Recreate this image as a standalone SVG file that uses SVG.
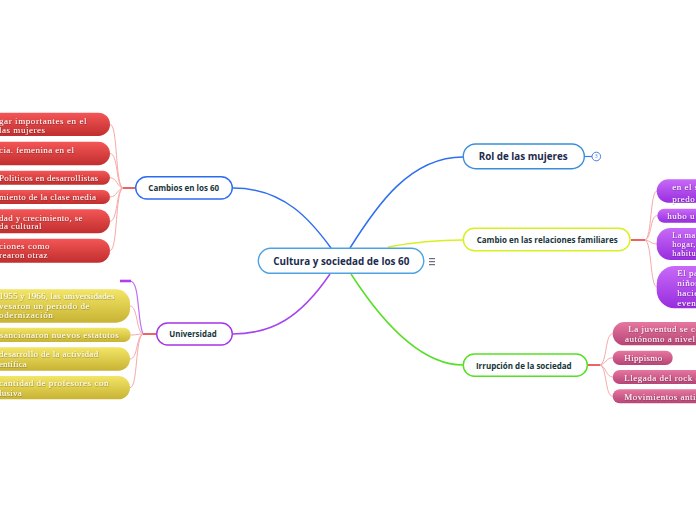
<svg xmlns="http://www.w3.org/2000/svg" width="696" height="520" viewBox="0 0 696 520">
<defs>
<linearGradient id="gRed" x1="0" y1="0" x2="0" y2="1"><stop offset="0" stop-color="#f45656"/><stop offset="1" stop-color="#c12e2e"/></linearGradient>
<linearGradient id="gYel" x1="0" y1="0" x2="0" y2="1"><stop offset="0" stop-color="#f3e567"/><stop offset="1" stop-color="#c8b333"/></linearGradient>
<linearGradient id="gPur" x1="0" y1="0" x2="0" y2="1"><stop offset="0" stop-color="#c86af7"/><stop offset="1" stop-color="#982ddf"/></linearGradient>
<linearGradient id="gPink" x1="0" y1="0" x2="0" y2="1"><stop offset="0" stop-color="#e6779f"/><stop offset="1" stop-color="#b74477"/></linearGradient>
<filter id="ts" x="-10%" y="-30%" width="120%" height="160%"><feDropShadow dx="0.4" dy="0.6" stdDeviation="0.3" flood-color="#000" flood-opacity="0.45"/></filter>
</defs>
<style>
.main{fill:#fff;stroke-width:1.4}
.mt{font-family:"Open Sans","DejaVu Sans",sans-serif;font-weight:700;fill:#17353a;text-anchor:middle}
.ct{fill:#1b2b4c}
.lt{font-family:"Liberation Serif","DejaVu Serif",serif;font-size:9px;fill:#fff;letter-spacing:0.5px;filter:url(#ts)}
.sm{font-size:8.3px}
.lk{fill:none;stroke:#f7a9a9;stroke-width:1}
.stub{fill:none;stroke:#ea3b3b;stroke-width:1.6}
.con{fill:none;stroke-width:1.5}
</style>
<rect width="696" height="520" fill="#fff"/>

<g id="connectors">
  <path class="con" stroke="#2f6ff0" d="M233,188 C285,188 312,222 331,248"/>
  <path class="con" stroke="#2f6ff0" d="M350,248 C377,205 410,157 463,157"/>
  <path class="con" stroke="#d8f020" d="M388,247 C415,242 435,240 463,240"/>
  <path class="con" stroke="#a545f0" d="M330,274 C300,318 272,334 232,334"/>
  <path class="con" stroke="#55e025" d="M351,274 C382,322 420,365 463,365"/>
  <path class="stub" d="M135,188 L123,188"/>
  <path class="lk" d="M123,188 C115,186 118,124 110,124.5"/>
  <path class="lk" d="M123,188 C116,186 118,153 110,153.5"/>
  <path class="lk" d="M123,188 C117,187 117,178 110,177.7"/>
  <path class="lk" d="M123,188 C117,189 117,197 110,197"/>
  <path class="lk" d="M123,188 C116,190 118,221 110,221.3"/>
  <path class="lk" d="M123,188 C115,190 118,250 110,250.7"/>
  <path class="stub" d="M156,334 L143,334"/>
  <path fill="none" stroke="#c070f5" stroke-width="1.2" d="M143,334 C137,320 140,281 130,281"/>
  <path fill="none" stroke="#b040ee" stroke-width="2.6" d="M120,281 L131,281"/>
  <path class="lk" d="M143,334 C136,332 138,306 130,306"/>
  <path class="lk" d="M143,334 C137,334 137,335 131,335"/>
  <path class="lk" d="M143,334 C136,336 138,359 130,359"/>
  <path class="lk" d="M143,334 C135,337 138,387.7 130,387.7"/>
  <path class="stub" d="M631,240 L645,240"/>
  <path class="lk" d="M645,240 C652,238 650,191 657,191"/>
  <path class="lk" d="M645,240 C652,238 650,215.7 657,215.7"/>
  <path class="lk" d="M645,240 C651,241 651,244 657,244"/>
  <path class="lk" d="M645,240 C652,242 650,287 657,287"/>
  <path class="stub" d="M587,365 L600,365"/>
  <path class="lk" d="M600,365 C607,363 605,333.7 612.7,333.7"/>
  <path class="lk" d="M600,365 C606,364 606,357.8 612.7,357.8"/>
  <path class="lk" d="M600,365 C606,366 606,377 612.7,377"/>
  <path class="lk" d="M600,365 C607,367 605,396.3 612.7,396.3"/>
  <path fill="none" stroke="#3a7ee8" stroke-width="1.2" d="M584,156.5 L592,156.5"/>
</g>

<g id="central">
  <rect class="main" x="258.3" y="248.3" width="165.5" height="25" rx="12.5" stroke="#4ea2e2"/>
  <text class="mt ct" x="341.3" y="265" font-size="11" textLength="136" lengthAdjust="spacingAndGlyphs">Cultura y sociedad de los 60</text>
  <g stroke="#4a4f66" stroke-width="1"><path d="M429,258.7h6M429,261.7h6M429,264.7h6"/></g>
</g>

<g id="rol">
  <rect class="main" x="463.3" y="144" width="121" height="24.7" rx="12.3" stroke="#3a8ed8"/>
  <text class="mt ct" x="523.2" y="160.2" font-size="11" textLength="89" lengthAdjust="spacingAndGlyphs">Rol de las mujeres</text>
  <circle cx="596.3" cy="156.5" r="4.3" fill="#fff" stroke="#4a7ee8" stroke-width="1"/>
  <text x="596.3" y="158.3" font-family="Open Sans, sans-serif" font-size="5" fill="#4a7ee8" text-anchor="middle">3</text>
</g>

<g id="cambio-relaciones">
  <rect class="main" x="463.3" y="228.3" width="166.7" height="22.4" rx="11.2" stroke="#d8f020"/>
  <text class="mt" x="547.2" y="243" font-size="9" textLength="141" lengthAdjust="spacingAndGlyphs">Cambio en las relaciones familiares</text>
</g>

<g id="irrupcion">
  <rect class="main" x="463.3" y="354" width="124" height="22.3" rx="11.2" stroke="#55e025"/>
  <text class="mt" x="523.8" y="368.5" font-size="9" textLength="95.7" lengthAdjust="spacingAndGlyphs">Irrupción de la sociedad</text>
</g>

<g id="cambios60">
  <rect class="main" x="135.7" y="176.7" width="96.6" height="22.3" rx="11.2" stroke="#2a6cf0"/>
  <text class="mt" x="183.7" y="191.2" font-size="9" textLength="70.7" lengthAdjust="spacingAndGlyphs">Cambios en los 60</text>
</g>

<g id="universidad">
  <rect class="main" x="156.7" y="323" width="75.6" height="22" rx="11" stroke="#a535e5"/>
  <text class="mt" x="193" y="337.3" font-size="9" textLength="47.4" lengthAdjust="spacingAndGlyphs">Universidad</text>
</g>

<g id="c1"><rect x="-40" y="112.7" width="150" height="23.3" rx="11.6" fill="url(#gRed)"/>
  <text class="lt" x="-1" y="124" textLength="88" lengthAdjust="spacing">gar importantes en el</text>
  <text class="lt" x="-1" y="132.6" textLength="46.5" lengthAdjust="spacing">las mujeres</text></g>
<g id="c2"><rect x="-40" y="141.7" width="150" height="23.6" rx="11.8" fill="url(#gRed)"/>
  <text class="lt" x="-1" y="153" textLength="75.5" lengthAdjust="spacing">cia.  femenina en el</text></g>
<g id="c3"><rect x="-40" y="170.7" width="150" height="14" rx="7" fill="url(#gRed)"/>
  <text class="lt" x="-1" y="181" textLength="99.5" lengthAdjust="spacing">Politicos en desarrollistas</text></g>
<g id="c4"><rect x="-40" y="190" width="150" height="14" rx="7" fill="url(#gRed)"/>
  <text class="lt" x="-1" y="200.2" textLength="97.5" lengthAdjust="spacing">miento de la clase media</text></g>
<g id="c5"><rect x="-40" y="209.3" width="150" height="24" rx="12" fill="url(#gRed)"/>
  <text class="lt" x="-1" y="220.5" textLength="84" lengthAdjust="spacing">dad y crecimiento, se</text>
  <text class="lt" x="-1" y="229.2" textLength="43" lengthAdjust="spacing">da cultural</text></g>
<g id="c6"><rect x="-40" y="238.7" width="150" height="24" rx="12" fill="url(#gRed)"/>
  <text class="lt" x="-1" y="249.2" textLength="51" lengthAdjust="spacing">ciones como</text>
  <text class="lt" x="-1" y="258.4" textLength="49" lengthAdjust="spacing">rearon otraz</text></g>

<g id="u1"><rect x="-40" y="289.3" width="170" height="33.4" rx="14" fill="url(#gYel)"/>
  <text class="lt" x="-1" y="299.2" textLength="116" lengthAdjust="spacing">1955 y 1966, las universidades</text>
  <text class="lt" x="-1" y="309" textLength="91" lengthAdjust="spacing">vesaron un periodo de</text>
  <text class="lt" x="-1" y="318.4" textLength="54.3" lengthAdjust="spacing">odernización</text></g>
<g id="u2"><rect x="-40" y="327.7" width="170.7" height="14.3" rx="7" fill="url(#gYel)"/>
  <text class="lt" x="0" y="338.3" textLength="119.3" lengthAdjust="spacing">sancionaron nuevos estatutos</text></g>
<g id="u3"><rect x="-40" y="347.3" width="170" height="23.4" rx="11.7" fill="url(#gYel)"/>
  <text class="lt" x="-1" y="357.4" textLength="99.7" lengthAdjust="spacing">desarrollo de la actividad</text>
  <text class="lt" x="-1" y="367.3" textLength="28.3" lengthAdjust="spacing">entífica</text></g>
<g id="u4"><rect x="-40" y="376" width="170" height="23.3" rx="11.6" fill="url(#gYel)"/>
  <text class="lt" x="-1" y="386.4" textLength="110" lengthAdjust="spacing">cantidad de profesores con</text>
  <text class="lt" x="-1" y="396.3" textLength="23.3" lengthAdjust="spacing">lusiva</text></g>

<g id="f1"><rect x="656.7" y="179.3" width="80" height="23.4" rx="11.7" fill="url(#gPur)"/>
  <text class="lt" x="672.3" y="189.7" letter-spacing="1.2">en el s</text>
  <text class="lt" x="672.3" y="201.5" letter-spacing="1.2">predo</text></g>
<g id="f2"><rect x="657.3" y="208.7" width="80" height="14" rx="7" fill="url(#gPur)"/>
  <text class="lt" x="667.3" y="218.8" letter-spacing="1.2">hubo u</text></g>
<g id="f3"><rect x="656.7" y="228" width="80" height="32" rx="14" fill="url(#gPur)"/>
  <text class="lt sm" x="672.3" y="238.3" letter-spacing="1.3">La ma</text>
  <text class="lt sm" x="672.3" y="247.3" letter-spacing="1.3">hogar,</text>
  <text class="lt sm" x="672.3" y="256.3" letter-spacing="1.3">habitu</text></g>
<g id="f4"><rect x="656.7" y="266" width="80" height="42.3" rx="18" fill="url(#gPur)"/>
  <text class="lt" x="677.3" y="276.3" letter-spacing="1.2">El pa</text>
  <text class="lt" x="677.3" y="286.3" letter-spacing="1.2">niños</text>
  <text class="lt" x="677.3" y="296.3" letter-spacing="1.2">hacie</text>
  <text class="lt" x="677.3" y="306.3" letter-spacing="1.2">even</text></g>

<g id="s1"><rect x="612.7" y="322" width="120" height="23.3" rx="11.6" fill="url(#gPink)"/>
  <text class="lt" x="628.3" y="331.7" letter-spacing="0.8">La juventud se co</text>
  <text class="lt" x="625" y="341.7" letter-spacing="0.8">autónomo a nivel</text></g>
<g id="s2"><rect x="612.7" y="350.7" width="60" height="14.3" rx="7" fill="url(#gPink)"/>
  <text class="lt" x="624.3" y="361.3" textLength="38.4" lengthAdjust="spacing">Hippismo</text></g>
<g id="s3"><rect x="612.7" y="370" width="120" height="14" rx="7" fill="url(#gPink)"/>
  <text class="lt" x="624.3" y="380.5" letter-spacing="0.6">Llegada del rock e</text></g>
<g id="s4"><rect x="612.7" y="389.3" width="120" height="14" rx="7" fill="url(#gPink)"/>
  <text class="lt" x="624.3" y="399.8" letter-spacing="0.6">Movimientos anti</text></g>
</svg>
